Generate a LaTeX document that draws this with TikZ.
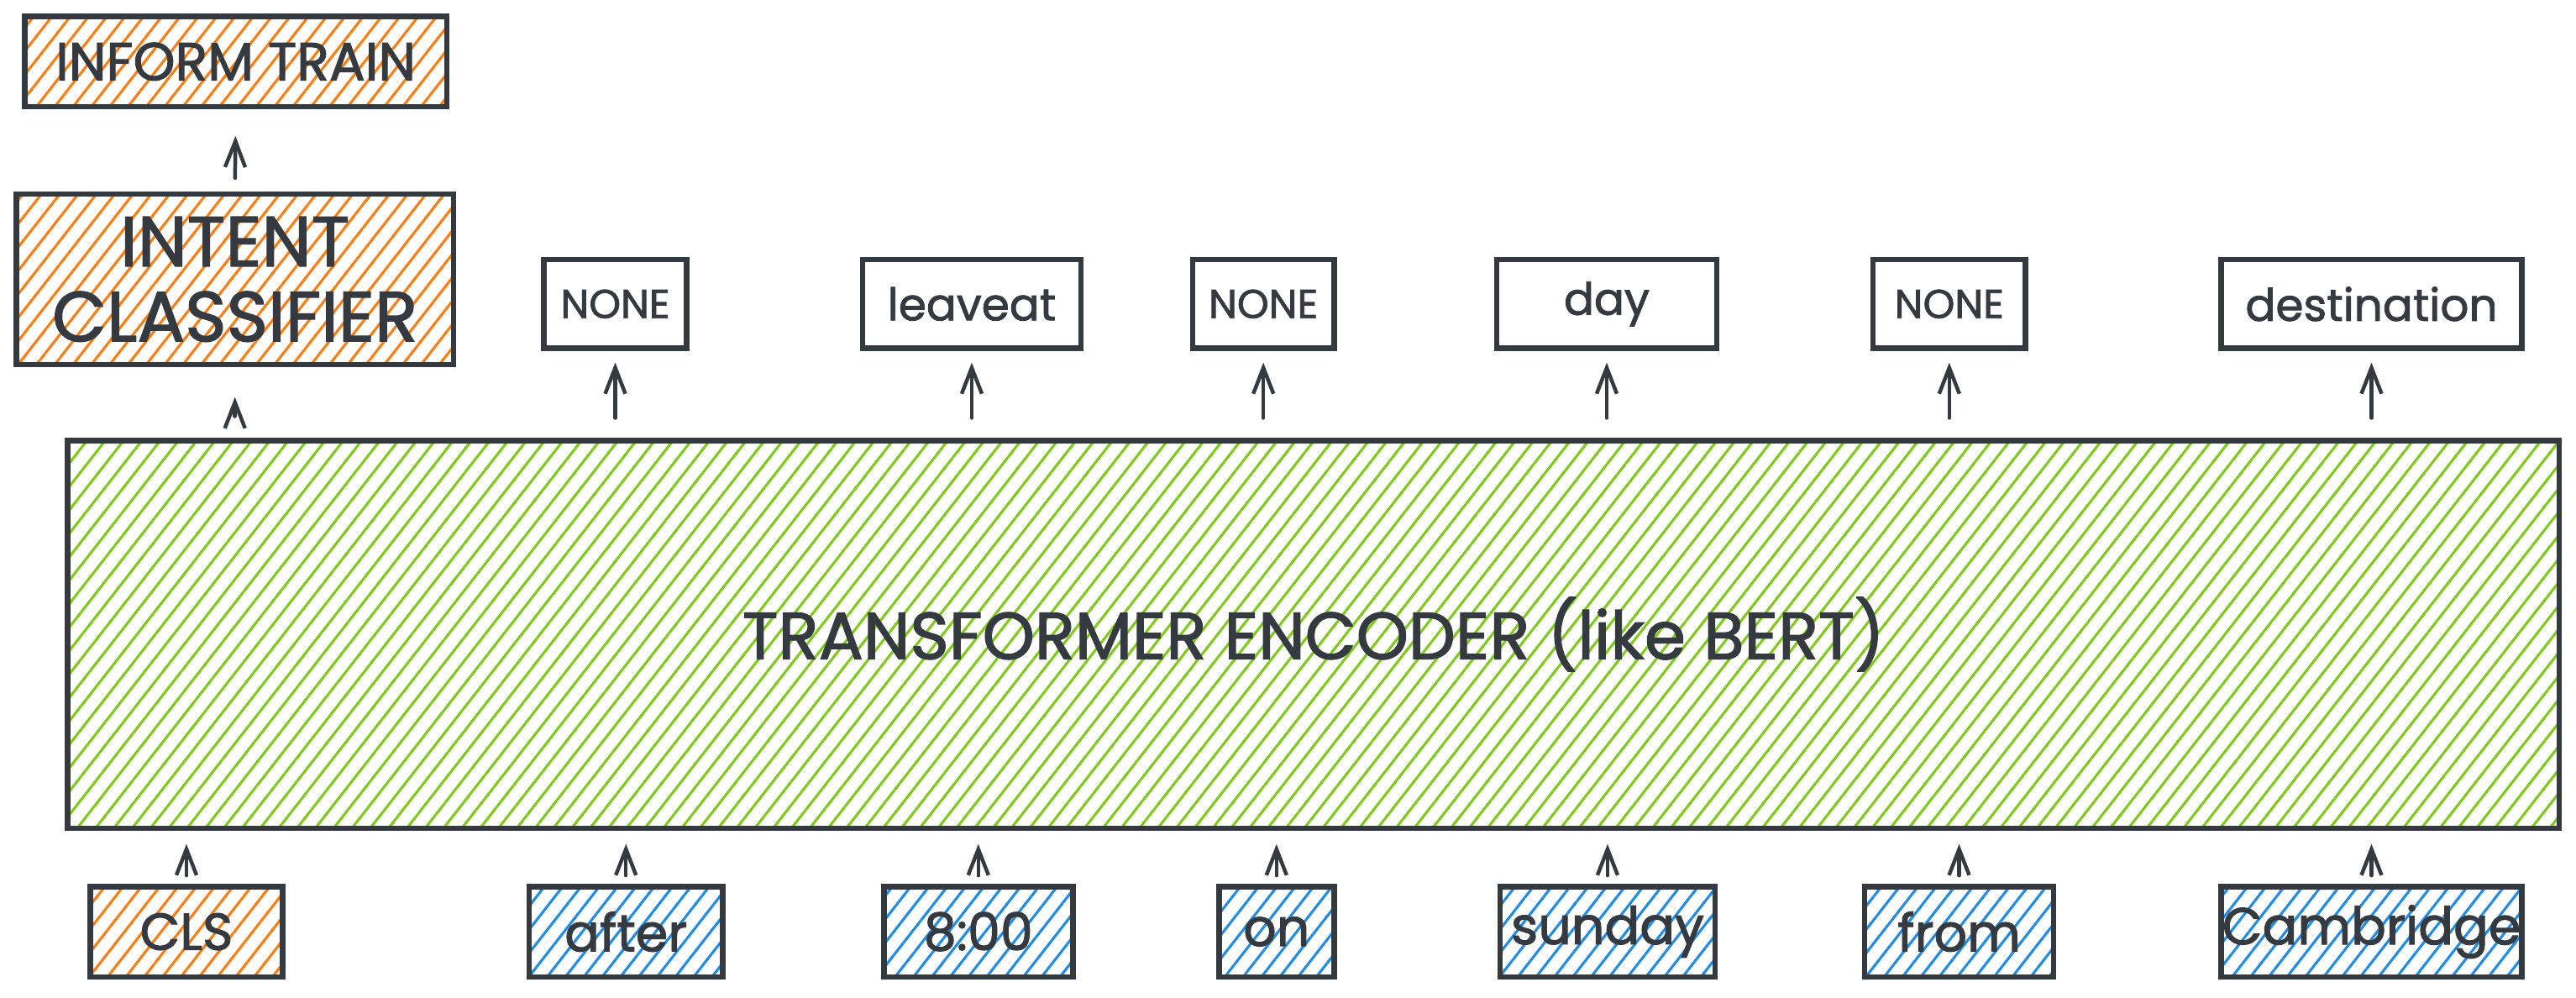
\documentclass[tikz,border=0pt]{standalone}
\usepackage{fontspec}
\setmainfont{Poppins}[FakeBold=1.6]
\usetikzlibrary{arrows.meta,patterns.meta}
\definecolor{ink}{HTML}{343A40}
\definecolor{exorange}{HTML}{FD7E14}
\definecolor{exblue}{HTML}{228BE6}
\definecolor{exgreen}{HTML}{82C91E}
\tikzset{
  box/.style={draw=ink, line width=1.9pt, text=ink, inner sep=0pt, align=center},
  hatch/.style={pattern={Lines[angle=52,distance=5pt,line width=0.9pt]}, pattern color=#1},
  orangebox/.style={box, hatch=exorange},
  bluebox/.style={box, hatch=exblue},
  greenbox/.style={box, hatch=exgreen},
  outbox/.style={box, minimum height=1.08cm, font=\fontsize{14}{16}\selectfont},
  lowtext/.style={font=\fontsize{15.5}{17}\selectfont},
  inbox/.style={bluebox, minimum height=1.10cm, font=\fontsize{18}{21}\selectfont},
  arr/.style={draw=ink, line width=1.3pt, line cap=round, -{Straight Barb[length=9pt,width=7pt,line width=1.3pt]}},
}
\begin{document}
\begin{tikzpicture}[x=0.02cm,y=-0.02cm]
\useasboundingbox (0,0) rectangle (1568,607);
% top left chain
\node[orangebox, minimum width=5.14cm, minimum height=1.10cm, font=\fontsize{18.5}{21}\selectfont] (inform) at (143.5,37.5) {INFORM TRAIN};
\node[orangebox, minimum width=5.32cm, minimum height=2.08cm, font=\fontsize{24.5}{26}\selectfont] (intent) at (143,170) {INTENT\\CLASSIFIER};
% encoder
\node[greenbox, minimum width=30.34cm, minimum height=4.72cm, font=\fontsize{23}{26}\selectfont] (enc) at (799.5,386) {TRANSFORMER ENCODER (like BERT)};
% outputs
\node[outbox, minimum width=1.74cm] (o1) at (374.5,185) {NONE};
\node[outbox, lowtext, minimum width=2.66cm] (o2) at (591.5,185) {leaveat};
\node[outbox, minimum width=1.72cm] (o3) at (769,185) {NONE};
\node[outbox, lowtext, minimum width=2.68cm] (o4) at (978,185) {day};
\node[outbox, minimum width=1.86cm] (o5) at (1186.5,185) {NONE};
\node[outbox, lowtext, minimum width=3.66cm] (o6) at (1443.5,185) {destination};
% inputs
\node[inbox, hatch=exorange, minimum width=2.34cm] (i0) at (113.5,567) {CLS};
\node[inbox, minimum width=2.36cm] (i1) at (381,567) {after};
\node[inbox, minimum width=2.30cm] (i2) at (595.5,567) {8:00};
\node[inbox, minimum width=1.40cm] (i3) at (777,567) {on};
\node[inbox, minimum width=2.62cm] (i4) at (978.5,567) {sunday};
\node[inbox, minimum width=2.30cm] (i5) at (1192.5,567) {from};
\node[inbox, minimum width=3.66cm] (i6) at (1443.5,567) {Cambridge};
% arrows
\draw[arr, shorten <=0.16cm, shorten >=0.34cm] (intent.north) -- (inform.south);
\draw[arr, shorten <=0.26cm, shorten >=0.36cm] (enc.north -| intent) -- (intent.south);
\foreach \o in {o1,o2,o3,o4,o5,o6}
  \draw[arr, shorten <=0.24cm, shorten >=0.14cm] (enc.north -| \o) -- (\o.south);
\foreach \i in {i0,i1,i2,i3,i4,i5,i6}
  \draw[arr, shorten <=0.10cm, shorten >=0.16cm] (\i.north) -- (enc.south -| \i);
\end{tikzpicture}
\end{document}
